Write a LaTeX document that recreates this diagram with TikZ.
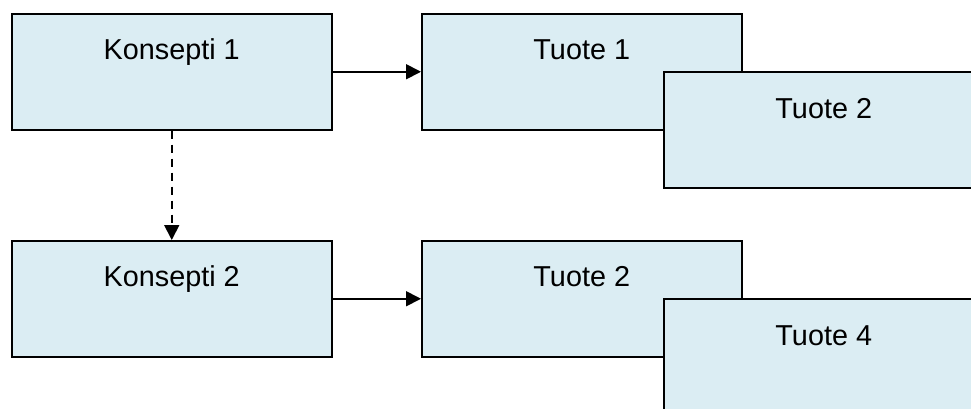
\documentclass[tikz,border=0pt]{standalone}
\usepackage{fontspec}
\setmainfont{Liberation Sans}
\usetikzlibrary{arrows.meta,calc}
\definecolor{boxfill}{RGB}{219,237,243}
\tikzset{
  box/.style={draw=black, fill=boxfill, line width=1.5pt, rectangle,
    minimum width=320pt, minimum height=116pt, inner sep=0pt, anchor=north west},
  boxtext/.style={anchor=base, font=\fontsize{28.8pt}{34pt}\selectfont, inner sep=0pt},
  flow/.style={line width=1.8pt, -{Triangle[length=15pt,width=15pt]}},
}
\begin{document}
\begin{tikzpicture}[x=1pt,y=-1pt]
\useasboundingbox (0,0) rectangle (971,408);
\clip (0,0) rectangle (971,408);
% first row
\node[box] (k1) at (11,13) {};
\node[boxtext] (k1t) at ($(k1.north)+(0,46)$) {Konsepti 1};
\node[box] (t1) at (421,13) {};
\node[boxtext] (t1t) at ($(t1.north)+(0,46)$) {Tuote 1};
\node[box] (t2) at (663,71) {};
\node[boxtext] (t2t) at ($(t2.north)+(0,47)$) {Tuote 2};
% second row
\node[box] (k2) at (11,240) {};
\node[boxtext] (k2t) at ($(k2.north)+(0,46)$) {Konsepti 2};
\node[box] (t3) at (421,240) {};
\node[boxtext] (t3t) at ($(t3.north)+(0,46)$) {Tuote 2};
\node[box] (t4) at (663,298) {};
\node[boxtext] (t4t) at ($(t4.north)+(0,47)$) {Tuote 4};
% connectors
\draw[flow] (k1.east) -- (t1.west);
\draw[flow] (k2.east) -- (t3.west);
\draw[flow, dash pattern=on 8pt off 6pt] (k1.south) -- (k2.north);
\end{tikzpicture}
\end{document}
